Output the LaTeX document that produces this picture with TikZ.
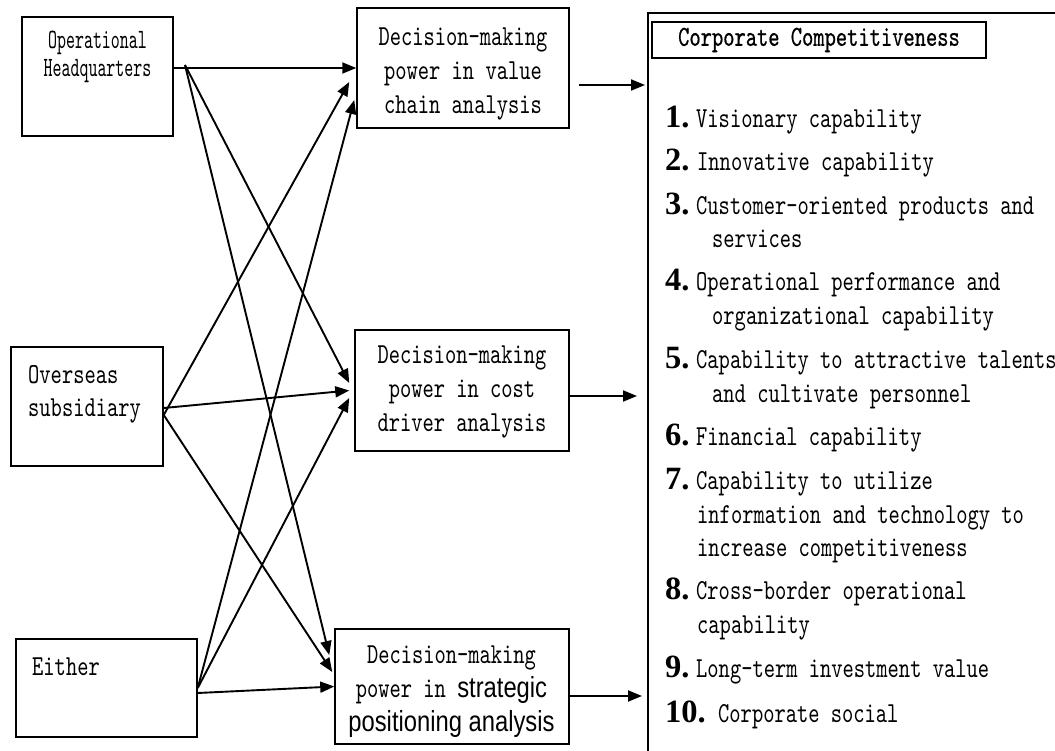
\documentclass[tikz,border=0pt]{standalone}
\usepackage{fontspec}
\usetikzlibrary{arrows.meta}
\newfontfamily\mono{lmmono10-regular}[Extension=.otf, FakeStretch=0.74]
\newfontfamily\monon{lmmono10-regular}[Extension=.otf, FakeStretch=0.61]
\newfontfamily\monob{lmmono10-regular}[Extension=.otf, FakeStretch=0.74, FakeBold=0.6]
\newfontfamily\sansc{Liberation Sans}[FakeStretch=0.82]
\newfontfamily\numf{Liberation Serif}
\begin{document}
\begin{tikzpicture}[x=1pt,y=-1pt,
  box/.style={draw, line width=1.5pt, inner sep=0pt},
  txt/.style={inner sep=0pt, align=center, font=\mono\fontsize{29}{34}\selectfont},
  itm/.style={inner sep=0pt, anchor=base west, font=\mono\fontsize{29}{34}\selectfont},
  num/.style={inner sep=0pt, anchor=base west, font=\numf\bfseries\fontsize{32.5}{34}\selectfont},
  arr/.style={-{Triangle[length=14pt,width=11pt]}, line width=1.9pt}]
\useasboundingbox (0,0) rectangle (1055,751);
\clip (0,0) rectangle (1055,751);
% left boxes
\node[box, minimum width=151pt, minimum height=119pt] (oh) at (97.5,76.5) {};
\node[box, minimum width=152pt, minimum height=119pt] (os) at (87,406.5) {};
\node[box, minimum width=181pt, minimum height=98pt] (ei) at (106.5,688) {};
\node[inner sep=0pt, align=center, anchor=north, font=\monon\fontsize{28}{28}\selectfont] (oht) at (97.5,30.9) {Operational\\Headquarters};
\node[txt, anchor=north west, align=left, font=\mono\fontsize{29}{33}\selectfont] (ost) at (28,365.3) {Overseas\\subsidiary};
\node[txt, anchor=north west, align=left] (eit) at (32,657.3) {Either};
% middle boxes
\node[box, minimum width=212pt, minimum height=120pt] (vc) at (463,68) {};
\node[box, minimum width=214pt, minimum height=121pt] (cd) at (462,390.5) {};
\node[box, minimum width=234pt, minimum height=115pt] (sp) at (452,686.5) {};
\node[txt, anchor=north] (vct) at (463,27.3) {Decision-making\\power in value\\chain analysis};
\node[txt, anchor=north] (cdt) at (462,345.3) {Decision-making\\power in cost\\driver analysis};
\node[txt, anchor=north] (spt) at (451.5,645.3) {Decision-making\\power in {\sansc strategic}\\{\sansc positioning analysis}};
% right box
\node[draw, line width=2pt, inner sep=0pt, minimum width=430pt, minimum height=760pt, anchor=north west] (cc) at (647,12) {};
\node[draw, line width=2pt, inner sep=0pt, minimum width=334pt, minimum height=36pt, font=\monob\fontsize{29}{34}\selectfont] (tt) at (819,40) {Corporate Competitiveness};
% list
\node[num] (n1) at (665,128) {1.};
\node[itm] (i1) at (696,128) {Visionary capability};
\node[num] (n2) at (665,171) {2.};
\node[itm] (i2) at (697,171) {Innovative capability};
\node[num] (n3) at (665,215) {3.};
\node[itm] (i3) at (696,215) {Customer-oriented products and};
\node[itm] (i3b) at (712,248) {services};
\node[num] (n4) at (665,291) {4.};
\node[itm] (i4) at (696,291) {Operational performance and};
\node[itm] (i4b) at (712,325) {organizational capability};
\node[num] (n5) at (665,368) {5.};
\node[itm] (i5) at (696,368) {Capability to attractive talents};
\node[itm] (i5b) at (712,402) {and cultivate personnel};
\node[num] (n6) at (665,445) {6.};
\node[itm] (i6) at (696,445) {Financial capability};
\node[num] (n7) at (665,489) {7.};
\node[itm] (i7) at (696,489) {Capability to utilize};
\node[itm] (i7b) at (697,523) {information and technology to};
\node[itm] (i7c) at (697,556) {increase competitiveness};
\node[num] (n8) at (665,599) {8.};
\node[itm] (i8) at (696,599) {Cross-border operational};
\node[itm] (i8b) at (697,633) {capability};
\node[num] (n9) at (665,677) {9.};
\node[itm] (i9) at (696,677) {Long-term investment value};
\node[num] (n10) at (665,722) {10.};
\node[itm] (i10) at (718,722) {Corporate social};
% connectors
\coordinate (ohx) at (185,65);
\draw[arr] (oh.east |- vc.west) -- (vc.west);
\draw[arr] (ohx) -- ([xshift=-5pt,yshift=7.5pt]cd.west);
\draw[arr] (ohx) -- ([xshift=-5pt,yshift=31.5pt]sp.west);
\draw[arr] ([yshift=-8.5pt]os.east) -- ([xshift=-7pt,yshift=-14pt]vc.west);
\draw[arr] ([yshift=-1.5pt]os.east) -- ([xshift=-5pt]cd.west);
\draw[arr] ([yshift=-8.5pt]os.east) -- ([xshift=-2pt,yshift=14.5pt]sp.west);
\draw[arr] (ei.east) -- ([xshift=-2pt,yshift=-32pt]vc.west);
\draw[arr] (ei.east) -- ([xshift=-5pt,yshift=-7.5pt]cd.west);
\draw[arr] ([yshift=-5pt]ei.east) -- (sp.west);
\coordinate (vco) at ([yshift=-17pt]vc.east);
\coordinate (cdo) at ([yshift=-5.5pt]cd.east);
\coordinate (spo) at ([yshift=-9.5pt]sp.east);
\draw[arr, shorten <=9pt, shorten >=2pt] (vco) -- (vco -| cc.west);
\draw[arr, shorten >=10pt] (cdo) -- (cdo -| cc.west);
\draw[arr, shorten >=5pt] (spo) -- (spo -| cc.west);
\end{tikzpicture}
\end{document}
